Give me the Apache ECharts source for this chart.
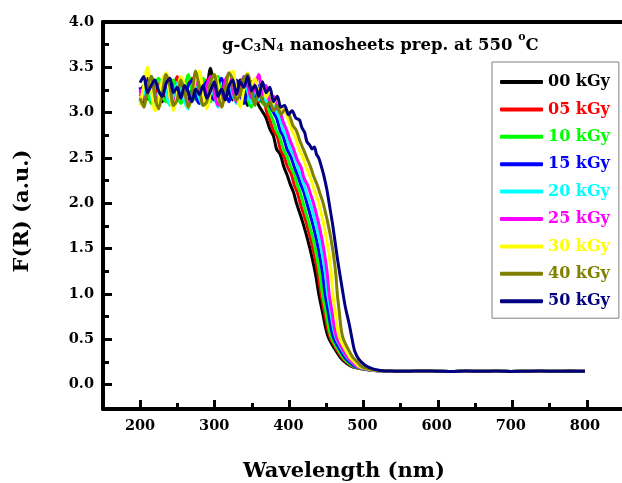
<!DOCTYPE html>
<html><head><meta charset="utf-8">
<script src="https://cdn.jsdelivr.net/npm/echarts@6/dist/echarts.min.js"></script>
<style>html,body{margin:0;padding:0;background:#fff}#c{width:622px;height:483px}</style>
</head><body><div id="c"></div>
<script>
const seriesNames = ['00 kGy','05 kGy','10 kGy','15 kGy','20 kGy','25 kGy','30 kGy','40 kGy','50 kGy'];
const seriesColors = ['#000000','#FF0000','#00FF00','#0000FF','#00FFFF','#FF00FF','#FFFF00','#808000','#000080'];
const xLabels = [200,300,400,500,600,700,800];
const yLabels = [0,0.5,1,1.5,2,2.5,3,3.5,4];

const wlPlateau = [200,205,210,215,220,225,230,235,240,245,250,255,260,265,270,275,280,285,290,295,300,305,310,315,320,325,330,335,340,345,350];
const plat00 = [3.22,3.30,3.15,3.28,3.35,3.20,3.12,3.30,3.38,3.22,3.16,3.32,3.25,3.12,3.28,3.34,3.20,3.10,3.25,3.49,3.30,3.18,3.26,3.35,3.22,3.14,3.28,3.36,3.18,3.08,3.24];
const plat05 = [3.18,3.26,3.38,3.20,3.12,3.30,3.36,3.18,3.10,3.28,3.40,3.22,3.14,3.32,3.38,3.20,3.12,3.30,3.36,3.22,3.40,3.28,3.12,3.26,3.38,3.20,3.14,3.30,3.36,3.18,3.10];
const plat10 = [3.12,3.28,3.20,3.10,3.32,3.38,3.18,3.12,3.30,3.36,3.20,3.10,3.28,3.42,3.24,3.14,3.30,3.38,3.20,3.12,3.34,3.40,3.22,3.16,3.34,3.26,3.12,3.30,3.38,3.16,3.06];
const plat15 = [3.28,3.12,3.36,3.40,3.18,3.08,3.30,3.38,3.20,3.12,3.32,3.26,3.14,3.30,3.36,3.18,3.10,3.28,3.34,3.20,3.14,3.30,3.38,3.22,3.12,3.30,3.36,3.20,3.10,3.28,3.34];
const plat20 = [3.10,3.20,3.32,3.16,3.06,3.24,3.36,3.22,3.08,3.18,3.32,3.26,3.12,3.04,3.22,3.30,3.16,3.08,3.26,3.34,3.20,3.06,3.18,3.30,3.36,3.20,3.10,3.26,3.40,3.24,3.10];
const plat25 = [3.26,3.14,3.22,3.36,3.20,3.10,3.28,3.34,3.18,3.06,3.24,3.38,3.22,3.10,3.20,3.34,3.26,3.12,3.30,3.40,3.22,3.08,3.18,3.36,3.42,3.24,3.12,3.28,3.40,3.30,3.16];
const plat30 = [3.08,3.30,3.50,3.26,3.02,3.12,3.36,3.44,3.18,3.02,3.20,3.40,3.30,3.06,3.14,3.38,3.46,3.20,3.04,3.22,3.42,3.32,3.08,3.18,3.40,3.46,3.22,3.06,3.26,3.44,3.30];
const plat40 = [3.16,3.06,3.28,3.40,3.18,3.04,3.22,3.42,3.30,3.08,3.14,3.36,3.24,3.06,3.20,3.46,3.28,3.08,3.12,3.34,3.42,3.20,3.06,3.26,3.44,3.36,3.14,3.20,3.38,3.42,3.24];
const plat50 = [3.33,3.40,3.22,3.30,3.36,3.24,3.18,3.32,3.38,3.22,3.28,3.16,3.30,3.22,3.12,3.26,3.20,3.30,3.16,3.24,3.34,3.18,3.26,3.14,3.30,3.36,3.20,3.34,3.28,3.40,3.24];

const drop00 = [[355,3.18],[360,3.08],[366,3.0],[370,2.94],[375,2.82],[380,2.74],[384,2.6],[389,2.54],[394,2.4],[398,2.32],[403,2.2],[407,2.12],[411,2.0],[419,1.8],[426,1.6],[432,1.4],[437,1.2],[441,1.0],[446,0.8],[451,0.6],[455,0.5],[462,0.4],[470,0.3],[476,0.25],[485,0.2],[500,0.17],[515,0.155],[530,0.15]];
const drop05 = [[355,3.26],[360,3.12],[365,3.16],[371,3.0],[375,2.92],[380,2.8],[385,2.74],[389,2.6],[394,2.52],[399,2.4],[404,2.32],[408,2.2],[412,2.12],[416,2.0],[423.6,1.8],[430.2,1.6],[435.8,1.4],[440.4,1.2],[444,1.0],[448.7,0.8],[453.4,0.6],[457.3,0.5],[464.1,0.4],[472,0.3],[478,0.25],[486.6,0.2],[501,0.17],[516,0.155],[530,0.15]];
const drop10 = [[355,3.2],[360,3.28],[365,3.1],[370,3.14],[375,3.0],[380,2.9],[384,2.8],[388,2.74],[393,2.6],[398,2.52],[403,2.4],[408,2.32],[412,2.2],[416,2.12],[420,2.0],[427,1.8],[433.4,1.6],[438.6,1.4],[442.8,1.2],[446,1.0],[450.6,0.8],[455.1,0.6],[458.9,0.5],[465.7,0.4],[473.5,0.3],[479.5,0.25],[487.8,0.2],[502,0.17],[517,0.155],[530,0.15]];
const drop15 = [[355,3.18],[360,3.3],[365,3.12],[370,3.2],[375,3.08],[380,3.0],[384,2.94],[389,2.8],[393,2.74],[398,2.6],[403,2.52],[408,2.4],[412,2.32],[417,2.2],[421,2.12],[425,2.0],[431.9,1.8],[437.8,1.6],[442.7,1.4],[446.6,1.2],[449.5,1.0],[453.8,0.8],[458.1,0.6],[461.7,0.5],[468.4,0.4],[476,0.3],[482,0.25],[489.8,0.2],[503.6,0.17],[518,0.155],[530,0.15]];
const drop20 = [[355,3.28],[360,3.14],[365,3.3],[370,3.12],[375,3.2],[380,3.06],[384.5,3.0],[389,2.92],[393.5,2.8],[398,2.72],[402.5,2.6],[407,2.54],[412.5,2.4],[417,2.3],[421.5,2.2],[425,2.1],[429.5,2.0],[436.2,1.8],[441.9,1.6],[446.6,1.4],[450.3,1.2],[453,1.0],[457.1,0.8],[461.3,0.6],[464.9,0.5],[471.4,0.4],[479,0.3],[485,0.25],[492.2,0.2],[505.4,0.17],[519,0.155],[530,0.15]];
const drop25 = [[355,3.3],[360,3.42],[365,3.2],[370,3.3],[375,3.12],[380,3.18],[385,3.05],[389,3.0],[393,2.9],[398,2.8],[402,2.7],[407,2.6],[412,2.48],[417,2.4],[421,2.28],[426,2.2],[430,2.1],[434,2.0],[440.2,1.8],[445.4,1.6],[449.6,1.4],[452.8,1.2],[455,1.0],[458.9,0.8],[462.7,0.6],[466.1,0.5],[472.6,0.4],[480,0.3],[486,0.25],[493,0.2],[506,0.17],[520,0.155],[530,0.15]];
const drop30 = [[355,3.38],[360,3.2],[365,3.34],[370,3.16],[375,3.26],[380,3.1],[385,3.18],[390,3.04],[396,3.0],[400,2.92],[405,2.8],[409,2.74],[414,2.6],[419,2.52],[424,2.4],[428,2.32],[433,2.2],[437,2.1],[441,2.0],[446.8,1.8],[451.6,1.6],[455.4,1.4],[458.2,1.2],[460,1.0],[463.3,0.8],[466.6,0.6],[469.7,0.5],[475.9,0.4],[483,0.3],[489,0.25],[495.4,0.2],[507.8,0.17],[521,0.155],[530,0.15]];
const drop40 = [[355,3.08],[360,3.22],[365,3.14],[370,3.06],[375,3.12],[380,3.02],[385,3.08],[390,2.98],[396,3.04],[402,2.96],[406,2.86],[411,2.8],[415,2.7],[420,2.6],[425,2.5],[430,2.4],[434,2.3],[439,2.2],[443,2.1],[447,2.0],[452.8,1.8],[457.6,1.6],[461.4,1.4],[464.2,1.2],[466,1.0],[468.7,0.8],[471.4,0.6],[474.3,0.5],[480.1,0.4],[487,0.3],[493,0.25],[498.6,0.2],[510,0.17],[522,0.155],[530,0.15]];
const drop50 = [[355,3.3],[360,3.18],[365,3.34],[370,3.22],[375,3.28],[380,3.12],[385,3.18],[390,3.06],[395,3.08],[400,2.98],[405,3.02],[410,2.94],[415,2.92],[418,2.84],[422,2.78],[425,2.68],[429,2.64],[432,2.6],[435,2.62],[438,2.54],[441,2.5],[444,2.42],[448,2.3],[452,2.15],[455,2.0],[460,1.75],[466,1.4],[473,1.04],[477,0.85],[482,0.67],[486,0.5],[489.5,0.37],[495,0.28],[504,0.21],[515,0.17],[525,0.155],[530,0.15]];

const tailWl = [540,560,580,600,620,640,660,680,700,720,740,760,780,800];
const tailFR = [0.148,0.146,0.15,0.147,0.145,0.149,0.146,0.148,0.145,0.147,0.149,0.146,0.148,0.147];

const plats = [plat00,plat05,plat10,plat15,plat20,plat25,plat30,plat40,plat50];
const drops = [drop00,drop05,drop10,drop15,drop20,drop25,drop30,drop40,drop50];

function build(p, d){
  return wlPlateau.map((w,i)=>[w,p[i]]).concat(d, tailWl.map((w,i)=>[w,tailFR[i]]));
}

// geometry of the main plot area
const GL = 103, GT = 22, GW = 521, GH = 387;
const XMIN = 150, XMAX = 850, YMIN = -0.27, YMAX = 4.0;
const pxX = GW / (XMAX - XMIN), pxY = GH / (YMAX - YMIN);

const FONT = 'DejaVu Serif';
const chart = echarts.init(document.getElementById('c'));
const tickStyle = {width:3, color:'#000'};
const hidden = {show:false};
const noLine = {show:false, onZero:false};
const thick = {show:true, onZero:false, lineStyle:{color:'#000', width:4}};
chart.setOption({
  animation:false,
  backgroundColor:'#fff',
  grid:[
    {left:GL, top:GT, width:GW, height:GH},
    {left:GL, top:GT, width:GW, height:(YMAX-0)*pxY},
    {left:GL+(200-XMIN)*pxX, top:GT, width:(800-200)*pxX, height:GH}
  ],
  xAxis:[
    {type:'value', gridIndex:0, min:XMIN, max:XMAX, position:'bottom', axisLine:thick, axisTick:hidden, splitLine:hidden,
     axisLabel:{customValues:xLabels, margin:10, fontFamily:FONT, fontWeight:'bold', fontSize:14.5, color:'#000'}},
    {type:'value', gridIndex:0, min:XMIN, max:XMAX, position:'top', axisLine:thick, axisTick:hidden, axisLabel:hidden, splitLine:hidden},
    {type:'value', gridIndex:1, min:XMIN, max:XMAX, show:false},
    {type:'value', gridIndex:2, min:200, max:800, interval:50, position:'bottom', axisLine:noLine, splitLine:hidden, axisLabel:hidden,
     axisTick:{show:true, inside:true, length:6, lineStyle:tickStyle}},
    {type:'value', gridIndex:2, min:200, max:800, interval:100, position:'bottom', axisLine:noLine, splitLine:hidden, axisLabel:hidden,
     axisTick:{show:true, inside:true, length:9, lineStyle:tickStyle}}
  ],
  yAxis:[
    {type:'value', gridIndex:0, min:YMIN, max:YMAX, position:'left', axisLine:thick, axisTick:hidden, splitLine:hidden,
     axisLabel:{customValues:yLabels, margin:9, fontFamily:FONT, fontWeight:'bold', fontSize:14.5, color:'#000',
       formatter:v=>v.toFixed(1)}},
    {type:'value', gridIndex:1, min:0, max:4, interval:0.25, position:'left', axisLine:noLine, splitLine:hidden, axisLabel:hidden,
     axisTick:{show:true, inside:true, length:6, lineStyle:tickStyle}},
    {type:'value', gridIndex:1, min:0, max:4, interval:0.5, position:'left', axisLine:noLine, splitLine:hidden, axisLabel:hidden,
     axisTick:{show:true, inside:true, length:9, lineStyle:tickStyle}},
    {type:'value', gridIndex:2, min:YMIN, max:YMAX, show:false}
  ],
  legend:{
    orient:'vertical', left:492, top:62, padding:[11,9,8,8], itemGap:9.4,
    itemWidth:43, itemHeight:4, icon:'roundRect',
    borderColor:'#808080', borderWidth:1, backgroundColor:'#fff',
    data: seriesNames.map((n,i)=>({name:n, textStyle:{color:seriesColors[i]}})),
    textStyle:{fontFamily:FONT, fontWeight:'bold', fontSize:16, lineHeight:18}
  },
  graphic:[
    {type:'text', left:222, top:32, style:{
      text:'{a|g-C}{s|3}{a|N}{s|4}{a| nanosheets prep. at 550 }{o|o}{a|C}',
      rich:{
        a:{fontFamily:FONT, fontWeight:'bold', fontSize:16.5, lineHeight:22, verticalAlign:'bottom', fill:'#000'},
        s:{fontFamily:FONT, fontWeight:'bold', fontSize:11, lineHeight:7, verticalAlign:'bottom', fill:'#000'},
        o:{fontFamily:FONT, fontWeight:'bold', fontSize:11, lineHeight:10, verticalAlign:'top', fill:'#000'}
      }}},
    {type:'text', x:344, y:472, style:{text:'Wavelength (nm)', fontFamily:FONT, fontWeight:'bold', fontSize:21,
      fill:'#000', align:'center', verticalAlign:'middle'}},
    {type:'text', x:23, y:211, rotation:Math.PI/2, style:{text:'F(R) (a.u.)', fontFamily:FONT, fontWeight:'bold', fontSize:21,
      fill:'#000', align:'center', verticalAlign:'middle'}}
  ],
  series: seriesNames.map((n,i)=>({
    name:n, type:'line', xAxisIndex:0, yAxisIndex:0, showSymbol:false, smooth:0.3, z:5,
    color:seriesColors[i], lineStyle:{width:3, color:seriesColors[i]},
    data: build(plats[i], drops[i])
  }))
});
</script></body></html>
